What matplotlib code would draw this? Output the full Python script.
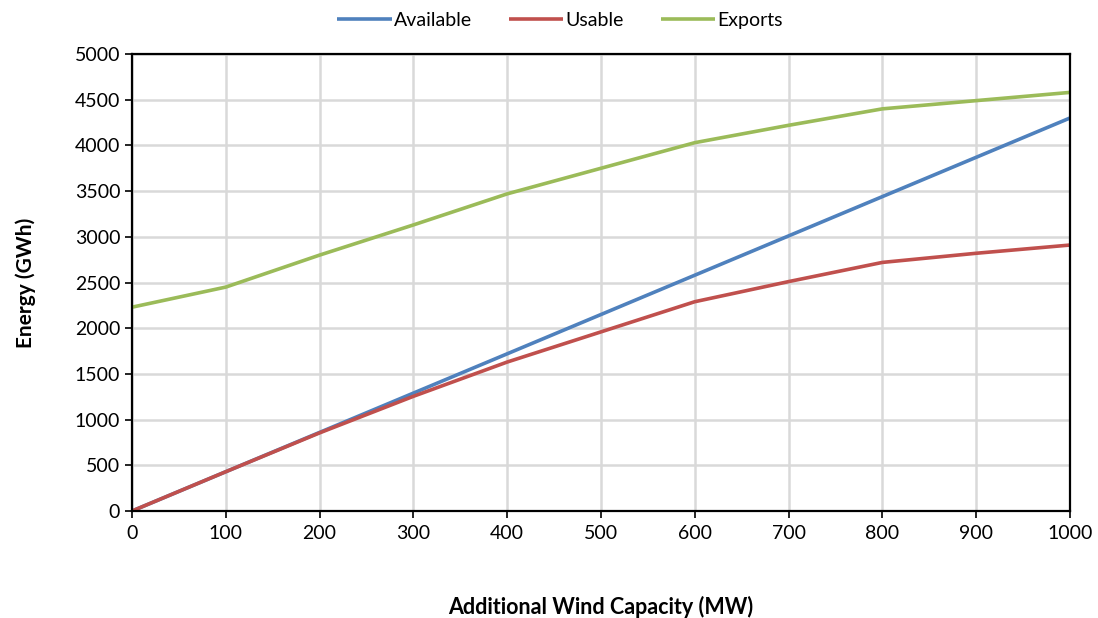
import numpy as np
import matplotlib.pyplot as plt

plt.rcParams['font.family'] = ['Lato', 'DejaVu Sans']

# additional wind capacity (MW) and energy (GWh)
capacity = [0, 100, 200, 300, 400, 500, 600, 700, 800, 900, 1000]
available = [0, 430, 860, 1290, 1720, 2150, 2580, 3010, 3440, 3870, 4300]
usable = [0, 430, 855, 1255, 1630, 1960, 2290, 2510, 2720, 2820, 2910]
exports = [2230, 2450, 2800, 3130, 3470, 3750, 4030, 4220, 4400, 4490, 4580]

fig = plt.figure(figsize=(10.98, 6.18), dpi=100)
ax = fig.add_axes([0.1202, 0.1731, 0.8543, 0.7395])

ax.plot(capacity, available, color='#4f81bd', lw=2.6, label='Available', solid_capstyle='butt')
ax.plot(capacity, usable, color='#c0504d', lw=2.6, label='Usable', solid_capstyle='butt')
ax.plot(capacity, exports, color='#9bbb59', lw=2.6, label='Exports', solid_capstyle='butt')

ax.set_xlim(0, 1000)
ax.set_ylim(0, 5000)
ax.set_xticks(np.arange(0, 1001, 100))
ax.set_yticks(np.arange(0, 5001, 500))
ax.grid(True, color='#d9d9d9', lw=1.8)
ax.set_axisbelow(True)
for s in ax.spines.values():
    s.set_color('black')
    s.set_linewidth(1.6)
ax.tick_params(axis='both', labelsize=14, length=5, width=1.2, direction='out')
ax.tick_params(axis='x', pad=5)

ax.set_xlabel('Additional Wind Capacity (MW)', fontsize=15.5, fontweight='bold', labelpad=39)
ax.set_ylabel('Energy (GWh)', fontsize=15, fontweight='bold', labelpad=28)

fig.legend(*ax.get_legend_handles_labels(), loc='center', bbox_to_anchor=(0.51, 0.967),
           ncol=3, frameon=False, fontsize=14, handlelength=2.8, handletextpad=0.1,
           columnspacing=1.9)

fig.savefig('out.png', dpi=100)
